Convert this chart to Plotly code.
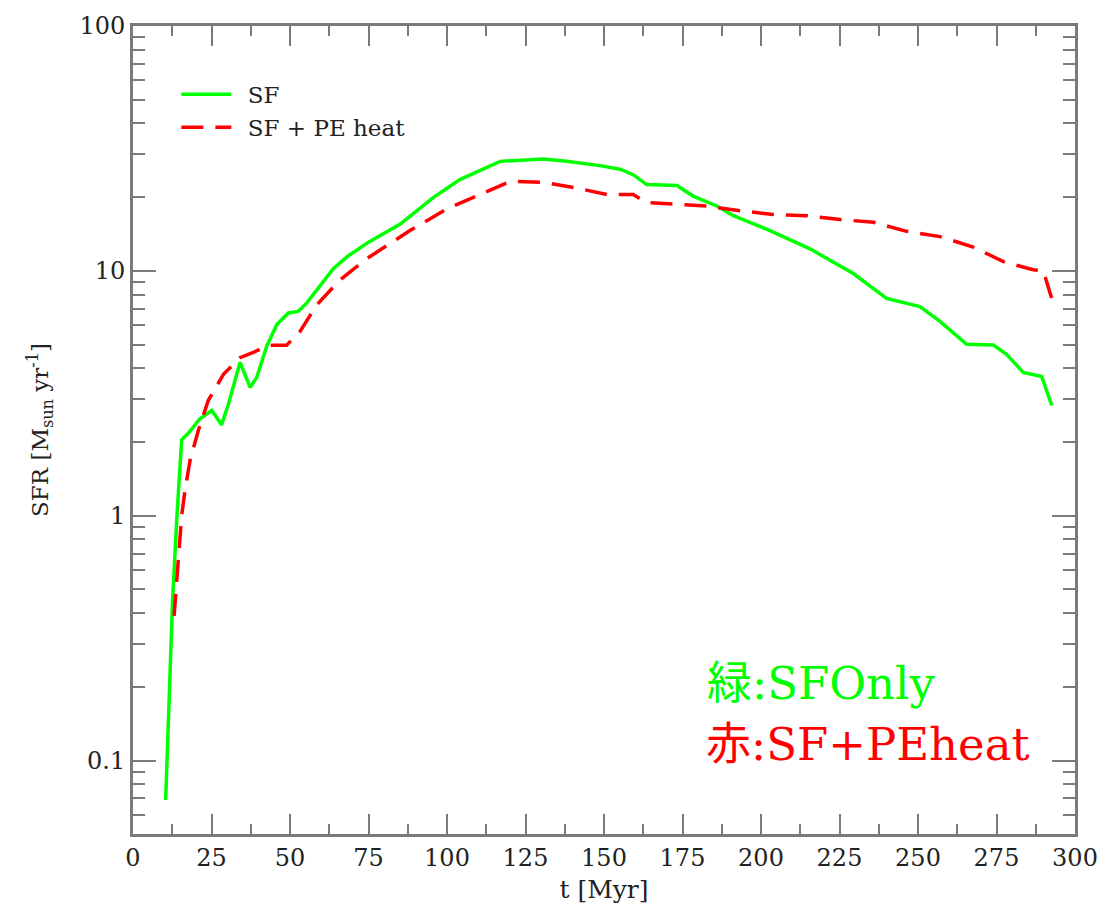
import plotly.graph_objects as go

# Green: SF only
t_sf = [10.4, 12.6, 14.0, 15.5, 17.6, 21.3, 25.1, 28.2, 30.4, 34.1, 37.3, 39.4, 42.6, 45.8,
        49.5, 52.6, 55.3, 59.6, 63.8, 68.1, 75.0, 85.0, 95.6, 104.1, 113.7, 116.9, 130.7,
        138.1, 148.7, 155.1, 159.3, 163.6, 173.2, 178.4, 185.9, 191.2, 201.8, 215.6, 229.4,
        240.0, 250.6, 257.0, 265.5, 274.0, 278.2, 283.5, 289.4, 292.6]
sfr_sf = [0.069, 0.45, 1.0, 2.04, 2.17, 2.49, 2.69, 2.35, 2.86, 4.23, 3.34, 3.67, 4.93, 6.03,
          6.73, 6.83, 7.38, 8.74, 10.2, 11.4, 13.1, 15.5, 19.9, 23.6, 26.7, 28.0, 28.6,
          28.0, 26.9, 26.0, 24.7, 22.5, 22.3, 20.2, 18.4, 16.8, 14.8, 12.3, 9.75,
          7.72, 7.14, 6.22, 5.01, 4.98, 4.56, 3.85, 3.70, 2.82]

# Red: SF + PE heat
t_pe = [13.1, 15.0, 15.5, 16.6, 18.2, 20.8, 24.0, 28.8, 34.1, 38.3, 43.0, 48.9, 53.2, 58.5,
        65.9, 74.4, 88.2, 99.9, 109.5, 120.1, 130.7, 141.3, 150.9, 159.3, 163.6, 172.1,
        182.7, 193.3, 203.9, 214.5, 225.2, 235.8, 246.4, 257.0, 267.6, 277.2, 286.7,
        289.9, 292.6]
sfr_pe = [0.39, 0.78, 1.0, 1.28, 1.69, 2.23, 2.96, 3.78, 4.42, 4.64, 4.97, 4.97, 5.66, 7.26,
          9.17, 11.2, 14.6, 17.9, 20.2, 23.2, 23.0, 21.8, 20.5, 20.5, 19.0, 18.7,
          18.4, 17.6, 17.0, 16.8, 16.2, 15.8, 14.5, 13.8, 12.5, 10.9, 10.1,
          10.0, 7.7]

x_ticks = [0, 25, 50, 75, 100, 125, 150, 175, 200, 225, 250, 275, 300]
y_ticks = [0.1, 1, 10, 100]
y_ticktext = ["0.1", "1", "10", "100"]

serif = "DejaVu Serif, serif"
cjk = "DejaVu Serif, Noto Sans CJK JP, serif"
axis_col = "#7a7a7a"
txt_col = "#222222"

fig = go.Figure()
fig.add_trace(go.Scatter(x=t_sf, y=sfr_sf, mode="lines", name="\u2002SF",
                         line=dict(color="#00ff00", width=3.5)))
fig.add_trace(go.Scatter(x=t_pe, y=sfr_pe, mode="lines", name="\u2002SF + PE heat",
                         line=dict(color="#ff0000", width=3.5, dash="22px,12px")))

fig.update_layout(
    width=1113, height=911,
    margin=dict(l=133, r=38, t=18, b=76),
    paper_bgcolor="white", plot_bgcolor="white",
    font=dict(family=serif, color=txt_col, size=22),
    showlegend=True,
    legend=dict(x=0.046, y=0.942, xanchor="left", yanchor="top",
                bgcolor="rgba(0,0,0,0)", font=dict(size=23, family=serif, color=txt_col),
                itemwidth=50, tracegroupgap=0),
    xaxis=dict(range=[0, 300], tickvals=x_ticks, showgrid=False, zeroline=False,
               showline=True, linecolor=axis_col, linewidth=3, mirror="ticks",
               ticks="inside", ticklen=20, tickwidth=2, tickcolor=axis_col,
               minor=dict(dtick=12.5, tick0=0, ticks="inside", ticklen=10, tickwidth=2,
                          tickcolor=axis_col, showgrid=False),
               tickfont=dict(size=24, family=serif, color=txt_col),
               title=dict(text="t [Myr]", font=dict(size=25, family=serif, color=txt_col),
                          standoff=10)),
    yaxis=dict(type="log", range=[-1.3, 2], tickvals=y_ticks, ticktext=y_ticktext,
               showgrid=False, zeroline=False,
               showline=True, linecolor=axis_col, linewidth=3, mirror="ticks",
               ticks="inside", ticklen=23, tickwidth=2, tickcolor=axis_col,
               minor=dict(dtick="D1", ticks="inside", ticklen=12, tickwidth=2,
                          tickcolor=axis_col, showgrid=False),
               tickfont=dict(size=24, family=serif, color=txt_col),
               title=dict(text="SFR [M<sub>sun</sub> yr<sup>-1</sup>]",
                          font=dict(size=23, family=serif, color=txt_col), standoff=25)),
)

fig.add_annotation(text="緑:SFOnly", xref="paper", yref="paper",
                   x=(705 - 133) / 942, y=(835 - 683) / 817,
                   xanchor="left", yanchor="middle", showarrow=False,
                   font=dict(size=45, color="#00ff00", family=cjk))
fig.add_annotation(text="赤:SF+PEheat", xref="paper", yref="paper",
                   x=(704 - 133) / 942, y=(835 - 745) / 817,
                   xanchor="left", yanchor="middle", showarrow=False,
                   font=dict(size=45, color="#ff0000", family=cjk))

fig.write_html("out.html")
